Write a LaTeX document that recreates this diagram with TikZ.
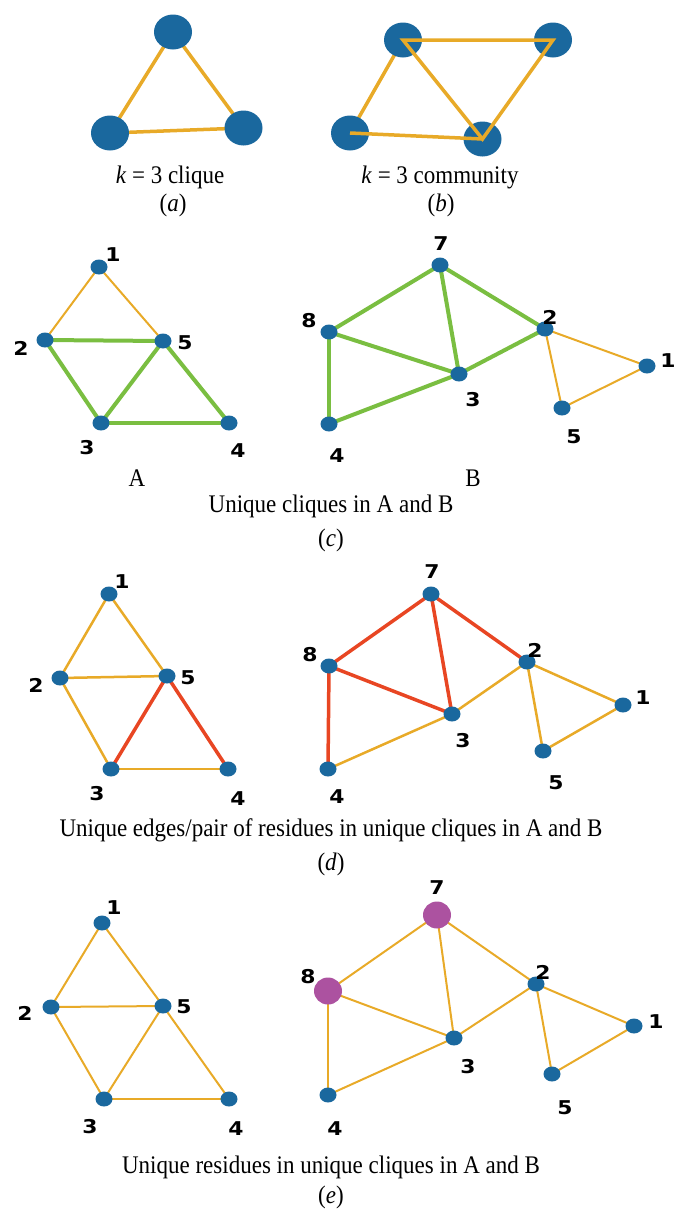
\documentclass[tikz,border=0pt]{standalone}
\usepackage{fontspec}
\setmainfont{Liberation Serif}
\newfontfamily\labfont{DejaVu Sans}
\usetikzlibrary{shapes.geometric,backgrounds}
\definecolor{nblue}{RGB}{26,104,158}
\definecolor{npurple}{RGB}{172,82,160}
\definecolor{eorange}{RGB}{232,170,40}
\definecolor{egreen}{RGB}{122,190,65}
\definecolor{ered}{RGB}{232,70,35}
\newcommand{\widenum}[1]{\scalebox{1.15}[1]{#1}}
\newcommand{\tallcap}[1]{\scalebox{1}[1.1]{#1}}
\tikzset{
  dot/.style={ellipse, fill=nblue, minimum width=17pt, minimum height=15pt, inner sep=0pt},
  bigdot/.style={ellipse, fill=nblue, minimum width=38pt, minimum height=35pt, inner sep=0pt},
  pdot/.style={ellipse, fill=npurple, minimum width=28pt, minimum height=27pt, inner sep=0pt},
  num/.style={inner sep=0pt, font=\labfont\bfseries\fontsize{19}{19}\selectfont},
  captxt/.style={inner sep=0pt, font=\fontsize{23}{27}\selectfont},
  thickorange/.style={draw=eorange, line width=3.5pt},
  oe/.style={draw=eorange, line width=2pt},
  oed/.style={draw=eorange, line width=2.5pt},
  ge/.style={draw=egreen, line width=4pt},
  re/.style={draw=ered, line width=3.5pt},
}
\begin{document}
\begin{tikzpicture}[x=1pt,y=-1pt]
\useasboundingbox (0,0) rectangle (678,1210);

% ---------- (a) ----------
\node[bigdot] (a1) at (173,32) {};
\node[bigdot] (a2) at (110,133) {};
\node[bigdot] (a3) at (243.5,128) {};
\begin{scope}[on background layer]
\draw[thickorange] (a1.center) -- (a2.center) -- (a3.center) -- (a1.center);
\end{scope}
\node[captxt] (capa) at (170,177) {\tallcap{\textit{k} = 3 clique}};
\node[captxt] (laba) at (173,205) {\tallcap{(\textit{a})}};

% ---------- (b) ----------
\node[bigdot] (b1) at (403,40) {};
\node[bigdot] (b2) at (553,40) {};
\node[bigdot] (b3) at (350,133) {};
\node[bigdot] (b4) at (482.5,139) {};
\begin{scope}[on background layer]
\draw[thickorange] (b1.center) -- (b3.center);
\end{scope}
\draw[thickorange] (b3.center) -- (b4.center);
\draw[thickorange, line join=miter] (b1.center) -- (b2.center) -- (b4.center) -- cycle;
\node[captxt] (capb) at (440,177) {\tallcap{\textit{k} = 3 community}};
\node[captxt] (labb) at (441,205) {\tallcap{(\textit{b})}};

% ---------- (c) A ----------
\node[dot] (cA1) at (99,267) {};
\node[dot] (cA2) at (45,340) {};
\node[dot] (cA5) at (163,341) {};
\node[dot] (cA3) at (101,423) {};
\node[dot] (cA4) at (229,423) {};
\begin{scope}[on background layer]
\draw[oe] (cA1.center) -- (cA2.center);
\draw[oe] (cA1.center) -- (cA5.center);
\draw[ge] (cA2.center) -- (cA5.center);
\draw[ge] (cA2.center) -- (cA3.center);
\draw[ge] (cA3.center) -- (cA5.center);
\draw[ge] (cA5.center) -- (cA4.center);
\draw[ge] (cA3.center) -- (cA4.center);
\end{scope}
\node[num] (tcA1) at (113,255) {\widenum{1}};
\node[num] (tcA2) at (21,348) {\widenum{2}};
\node[num] (tcA5) at (185,343) {\widenum{5}};
\node[num] (tcA3) at (87,448) {\widenum{3}};
\node[num] (tcA4) at (238,451) {\widenum{4}};
\node[captxt] (capA) at (137,478) {\tallcap{A}};

% ---------- (c) B ----------
\node[dot] (cB7) at (440,265) {};
\node[dot] (cB8) at (329,332) {};
\node[dot] (cB2) at (545,329) {};
\node[dot] (cB3) at (459,374) {};
\node[dot] (cB4) at (329,424) {};
\node[dot] (cB1) at (647,366) {};
\node[dot] (cB5) at (562,408) {};
\begin{scope}[on background layer]
\draw[ge] (cB7.center) -- (cB8.center);
\draw[ge] (cB7.center) -- (cB3.center);
\draw[ge] (cB7.center) -- (cB2.center);
\draw[ge] (cB8.center) -- (cB3.center);
\draw[ge] (cB8.center) -- (cB4.center);
\draw[ge] (cB4.center) -- (cB3.center);
\draw[ge] (cB3.center) -- (cB2.center);
\draw[oe] (cB2.center) -- (cB1.center);
\draw[oe] (cB2.center) -- (cB5.center);
\draw[oe] (cB5.center) -- (cB1.center);
\end{scope}
\node[num] (tcB7) at (441,244) {\widenum{7}};
\node[num] (tcB8) at (309,321) {\widenum{8}};
\node[num] (tcB2) at (550,317) {\widenum{2}};
\node[num] (tcB3) at (473,400) {\widenum{3}};
\node[num] (tcB4) at (337,456) {\widenum{4}};
\node[num] (tcB1) at (668,361) {\widenum{1}};
\node[num] (tcB5) at (574,437) {\widenum{5}};
\node[captxt] (capB) at (473,478) {\tallcap{B}};

\node[captxt] (capc) at (331,506) {\tallcap{Unique cliques in A and B}};
\node[captxt] (labc) at (331,540) {\tallcap{(\textit{c})}};

% ---------- (d) A ----------
\node[dot] (dA1) at (109,594) {};
\node[dot] (dA2) at (60,678) {};
\node[dot] (dA5) at (167,676) {};
\node[dot] (dA3) at (111,769) {};
\node[dot] (dA4) at (228,769) {};
\begin{scope}[on background layer]
\draw[oed] (dA1.center) -- (dA2.center);
\draw[oed] (dA1.center) -- (dA5.center);
\draw[oed] (dA2.center) -- (dA5.center);
\draw[oed] (dA2.center) -- (dA3.center);
\draw[oed] (dA3.center) -- (dA4.center);
\draw[re] (dA3.center) -- (dA5.center);
\draw[re] (dA5.center) -- (dA4.center);
\end{scope}
\node[num] (tdA1) at (122,582) {\widenum{1}};
\node[num] (tdA2) at (36,685) {\widenum{2}};
\node[num] (tdA5) at (188,678) {\widenum{5}};
\node[num] (tdA3) at (97,794) {\widenum{3}};
\node[num] (tdA4) at (238,799) {\widenum{4}};

% ---------- (d) B ----------
\node[dot] (dB7) at (431,594) {};
\node[dot] (dB8) at (329,666) {};
\node[dot] (dB2) at (527,662) {};
\node[dot] (dB3) at (452,714) {};
\node[dot] (dB4) at (328,769) {};
\node[dot] (dB1) at (623,705) {};
\node[dot] (dB5) at (543,751) {};
\begin{scope}[on background layer]
\draw[re] (dB7.center) -- (dB8.center);
\draw[re] (dB7.center) -- (dB3.center);
\draw[re] (dB7.center) -- (dB2.center);
\draw[re] (dB8.center) -- (dB3.center);
\draw[re] (dB8.center) -- (dB4.center);
\draw[oed] (dB4.center) -- (dB3.center);
\draw[oed] (dB3.center) -- (dB2.center);
\draw[oed] (dB2.center) -- (dB1.center);
\draw[oed] (dB2.center) -- (dB5.center);
\draw[oed] (dB5.center) -- (dB1.center);
\end{scope}
\node[num] (tdB7) at (432,572) {\widenum{7}};
\node[num] (tdB8) at (310,655) {\widenum{8}};
\node[num] (tdB2) at (535,650) {\widenum{2}};
\node[num] (tdB3) at (463,741) {\widenum{3}};
\node[num] (tdB4) at (337,797) {\widenum{4}};
\node[num] (tdB1) at (643,698) {\widenum{1}};
\node[num] (tdB5) at (556,783) {\widenum{5}};

\node[captxt] (capd) at (331,830) {\tallcap{Unique edges/pair of residues in unique cliques in A and B}};
\node[captxt] (labd) at (331,864) {\tallcap{(\textit{d})}};

% ---------- (e) A ----------
\node[dot] (eA1) at (102,923) {};
\node[dot] (eA2) at (51,1007) {};
\node[dot] (eA5) at (163,1006) {};
\node[dot] (eA3) at (104,1099) {};
\node[dot] (eA4) at (229,1099) {};
\begin{scope}[on background layer]
\draw[oe] (eA1.center) -- (eA2.center);
\draw[oe] (eA1.center) -- (eA5.center);
\draw[oe] (eA2.center) -- (eA5.center);
\draw[oe] (eA2.center) -- (eA3.center);
\draw[oe] (eA3.center) -- (eA5.center);
\draw[oe] (eA5.center) -- (eA4.center);
\draw[oe] (eA3.center) -- (eA4.center);
\end{scope}
\node[num] (teA1) at (114,908) {\widenum{1}};
\node[num] (teA2) at (25,1013) {\widenum{2}};
\node[num] (teA5) at (184,1007) {\widenum{5}};
\node[num] (teA3) at (90,1127) {\widenum{3}};
\node[num] (teA4) at (236,1129) {\widenum{4}};

% ---------- (e) B ----------
\node[pdot] (eB7) at (437,915) {};
\node[pdot] (eB8) at (328,991) {};
\node[dot] (eB2) at (536,984) {};
\node[dot] (eB3) at (454,1038) {};
\node[dot] (eB4) at (328,1095) {};
\node[dot] (eB1) at (634,1026) {};
\node[dot] (eB5) at (552,1074) {};
\begin{scope}[on background layer]
\draw[oe] (eB7.center) -- (eB8.center);
\draw[oe] (eB7.center) -- (eB3.center);
\draw[oe] (eB7.center) -- (eB2.center);
\draw[oe] (eB8.center) -- (eB3.center);
\draw[oe] (eB8.center) -- (eB4.center);
\draw[oe] (eB4.center) -- (eB3.center);
\draw[oe] (eB3.center) -- (eB2.center);
\draw[oe] (eB2.center) -- (eB1.center);
\draw[oe] (eB2.center) -- (eB5.center);
\draw[oe] (eB5.center) -- (eB1.center);
\end{scope}
\node[num] (teB7) at (437,888) {\widenum{7}};
\node[num] (teB8) at (308,977) {\widenum{8}};
\node[num] (teB2) at (543,972) {\widenum{2}};
\node[num] (teB3) at (468,1067) {\widenum{3}};
\node[num] (teB4) at (335,1129) {\widenum{4}};
\node[num] (teB1) at (656,1022) {\widenum{1}};
\node[num] (teB5) at (565,1108) {\widenum{5}};

\node[captxt] (cape) at (331,1167) {\tallcap{Unique residues in unique cliques in A and B}};
\node[captxt] (labe) at (331,1197) {\tallcap{(\textit{e})}};
\end{tikzpicture}
\end{document}
